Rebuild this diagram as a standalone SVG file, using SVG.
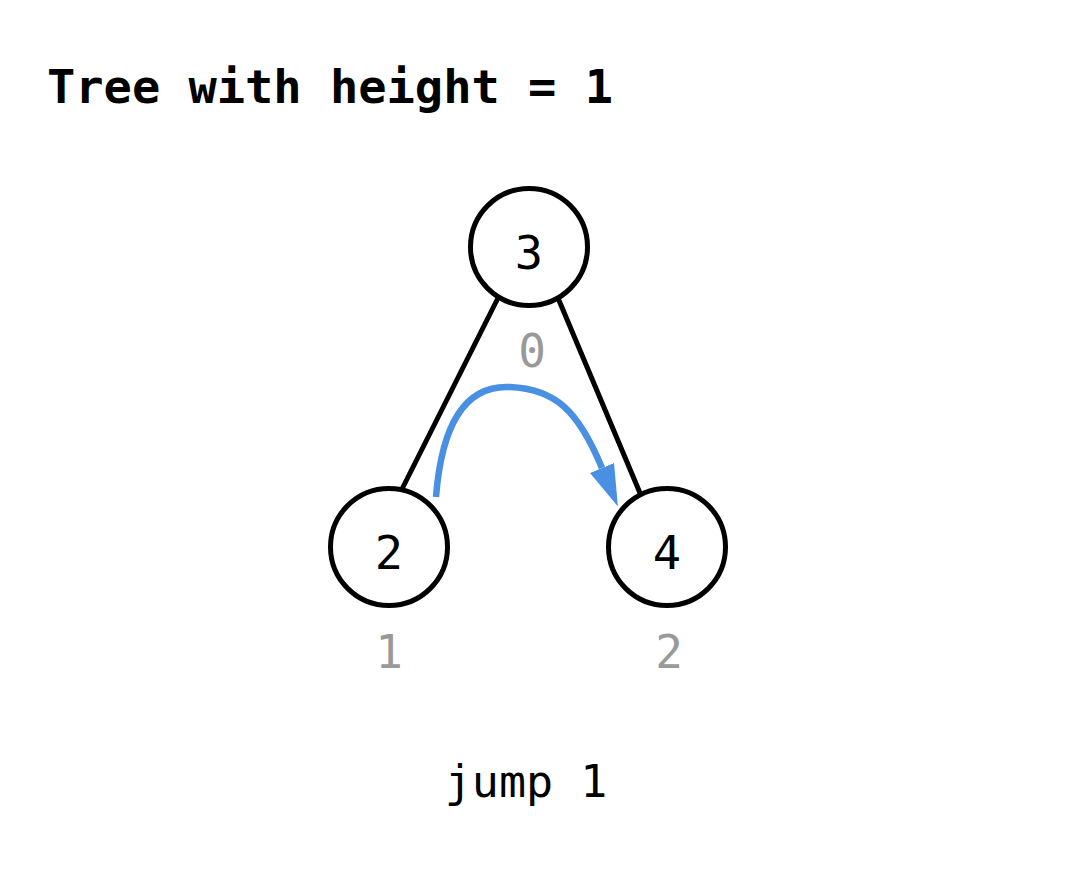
<svg xmlns="http://www.w3.org/2000/svg" width="1076" height="878" viewBox="0 0 1076 878">
<defs>
<style>
.t{font-family:"DejaVu Sans Mono","Liberation Mono",monospace;}
.node circle{fill:#fff;stroke:#000;stroke-width:5;}
.lbl{font-size:47px;fill:#000;text-anchor:middle;}
.idx{font-size:46px;fill:#999;text-anchor:middle;}
.edge{stroke:#000;stroke-width:5;fill:none;}
</style>
<marker id="ah" viewBox="0 0 16 10" refX="0" refY="5" markerWidth="6.4" markerHeight="4" orient="auto" markerUnits="strokeWidth">
<path d="M0,0 L16,5 L0,10 z" fill="#4A90E2"/>
</marker>
</defs>
<rect width="1076" height="878" fill="#fff"/>
<text class="t" x="47" y="103" font-size="47" font-weight="bold">Tree with height = 1</text>
<g id="connectors">
<line class="edge" x1="498" y1="298" x2="401" y2="491"/>
<line class="edge" x1="558" y1="298" x2="640" y2="493"/>
<path d="M436,497 C442,420 468,385 510,387 C555,389 578,410 602,468" fill="none" stroke="#4A90E2" stroke-width="6.5" marker-end="url(#ah)"/>
</g>
<g id="node3" class="node"><circle cx="529" cy="247" r="58.5"/><text class="t lbl" x="529" y="269">3</text></g>
<g id="node2" class="node"><circle cx="389" cy="547" r="58.5"/><text class="t lbl" x="389" y="569">2</text></g>
<g id="node4" class="node"><circle cx="667" cy="547" r="58.5"/><text class="t lbl" x="667" y="569">4</text></g>
<text class="t idx" x="532" y="367">0</text>
<text class="t idx" x="389" y="668">1</text>
<text class="t idx" x="669" y="668">2</text>
<text class="t" x="526" y="797" font-size="45" text-anchor="middle">jump 1</text>
</svg>
